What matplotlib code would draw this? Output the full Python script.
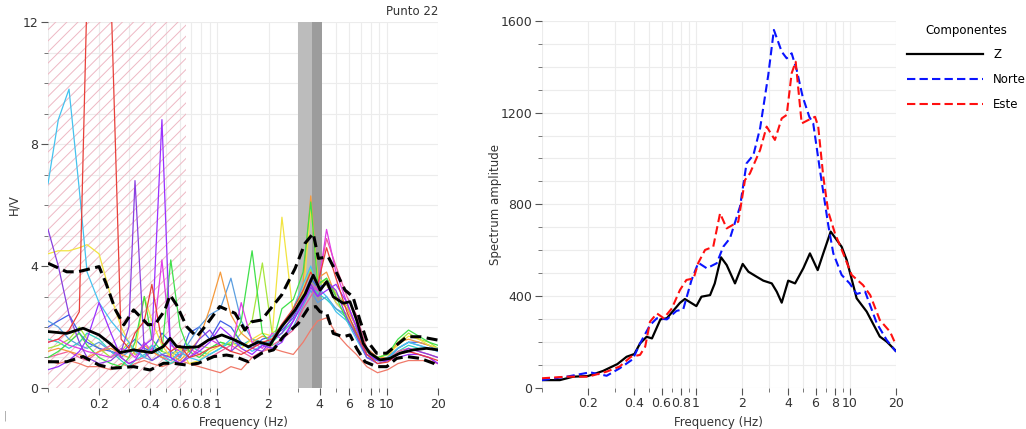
import numpy as np
import matplotlib
matplotlib.use("Agg")
import matplotlib.pyplot as plt
from matplotlib.ticker import LogLocator, NullFormatter, MultipleLocator

# -------------------- H/V WINDOWS (left panel) --------------------
WIN_FREQ = [0.10, 0.115, 0.133, 0.153, 0.17, 0.20, 0.235, 0.27, 0.30, 0.326,
            0.37, 0.41, 0.47, 0.53, 0.60, 0.68, 0.78, 0.90, 1.04, 1.2,
            1.38, 1.6, 1.84, 2.1, 2.4, 2.8, 3.2, 3.55, 3.9, 4.4,
            5.0, 5.8, 6.6, 7.6, 8.8, 10.1, 11.6, 13.4, 15.4, 17.7, 20.0]

win_cyan = [6.7, 8.8, 9.8, 6.5, 3.8, 2.8, 2.2, 1.8, 1.5, 1.2, 1.0, 1.4, 1.1, 0.9, 1.2, 1.0, 0.9, 1.1, 1.3, 1.6,
            1.5, 1.2, 1.4, 1.7, 2.0, 2.6, 3.4, 4.0, 3.3, 3.0, 2.5, 2.2, 1.6, 1.0, 0.9, 1.0, 1.3, 1.5, 1.4, 1.3, 1.3]
win_red = [1.5, 1.6, 1.9, 2.5, 13.0, 20.0, 13.0, 1.6, 1.3, 1.8, 2.2, 3.4, 1.5, 1.2, 1.4, 1.0, 1.1, 1.3, 1.4, 1.2,
           1.1, 1.3, 1.5, 1.6, 2.1, 2.6, 3.2, 3.8, 3.4, 4.6, 3.6, 2.5, 1.8, 1.1, 0.8, 0.85, 1.1, 1.2, 1.1, 1.0, 0.9]
win_purple = [5.2, 4.0, 2.4, 1.5, 1.0, 0.8, 0.9, 1.2, 2.0, 6.8, 1.2, 0.9, 1.1, 1.0, 0.8, 1.1, 1.6, 1.9, 1.4, 1.2,
              1.5, 1.3, 1.2, 1.6, 1.8, 2.4, 2.9, 3.4, 3.0, 3.5, 3.2, 2.3, 1.7, 1.0, 0.8, 0.9, 1.1, 1.3, 1.2, 1.1, 1.0]
win_violet = [0.6, 0.7, 0.9, 1.2, 1.6, 2.8, 1.8, 1.0, 0.8, 0.9, 1.4, 1.6, 8.8, 1.0, 0.8, 1.0, 1.2, 1.5, 2.0, 1.7,
              1.3, 1.1, 1.4, 1.3, 1.5, 2.2, 2.8, 3.3, 3.0, 3.2, 3.4, 2.8, 2.0, 1.1, 0.9, 0.9, 1.0, 1.1, 1.1, 1.0, 0.8]
win_yellow = [4.4, 4.5, 4.5, 4.6, 4.7, 4.4, 3.0, 2.0, 1.5, 1.2, 3.0, 2.2, 1.4, 1.0, 1.3, 0.8, 0.9, 1.2, 1.4, 1.5,
              1.3, 1.6, 1.8, 1.7, 5.6, 2.4, 3.0, 5.9, 3.6, 3.4, 2.8, 2.4, 1.8, 1.2, 1.0, 1.1, 1.4, 1.7, 1.6, 1.4, 1.3]
win_orange = [1.2, 1.3, 1.2, 1.1, 1.0, 1.2, 1.3, 1.1, 1.0, 1.2, 1.4, 1.2, 1.0, 1.1, 0.9, 1.2, 1.6, 2.6, 3.8, 2.4,
              1.8, 1.5, 1.7, 1.6, 2.0, 2.6, 3.4, 6.3, 3.6, 3.8, 3.0, 2.6, 2.0, 1.3, 1.0, 1.0, 1.5, 1.6, 1.5, 1.4, 1.3]
win_green = [1.0, 1.2, 1.5, 1.8, 1.4, 1.0, 0.8, 0.7, 1.0, 1.5, 3.0, 1.6, 1.2, 4.2, 2.0, 1.2, 1.0, 1.3, 1.5, 1.4,
             2.2, 4.5, 1.8, 1.4, 2.6, 2.9, 3.8, 6.1, 3.4, 3.6, 3.0, 2.2, 1.8, 1.2, 1.0, 1.1, 1.6, 1.9, 1.7, 1.5, 1.4]
win_skyblue = [2.2, 2.0, 1.6, 1.4, 1.3, 1.5, 1.2, 1.0, 1.2, 1.3, 1.0, 0.9, 1.1, 1.2, 1.0, 1.5, 2.0, 2.4, 2.6, 3.6,
               2.2, 1.6, 1.4, 1.3, 1.6, 2.0, 2.7, 3.2, 2.8, 3.0, 2.6, 2.4, 1.9, 1.2, 0.9, 0.9, 1.3, 1.5, 1.4, 1.3, 1.2]
win_magenta = [1.5, 1.6, 1.4, 1.3, 1.2, 1.1, 1.0, 1.3, 1.2, 1.0, 1.5, 1.2, 4.2, 1.4, 1.2, 1.0, 1.3, 1.6, 1.4, 1.2,
               2.8, 1.5, 1.3, 1.8, 1.6, 2.2, 2.8, 3.4, 3.2, 5.2, 3.8, 2.8, 2.0, 1.1, 0.9, 0.9, 1.1, 1.2, 1.1, 1.0, 0.8]
win_pink = [1.0, 1.1, 1.2, 1.0, 0.9, 1.2, 1.4, 1.0, 0.8, 0.9, 1.0, 1.2, 1.0, 0.9, 1.1, 1.3, 1.1, 1.0, 1.2, 1.4,
            1.2, 1.0, 1.2, 1.4, 1.6, 1.9, 2.6, 3.0, 3.4, 4.9, 4.0, 3.0, 2.4, 1.3, 1.0, 0.9, 1.2, 1.3, 1.2, 1.1, 1.0]
win_blue = [2.0, 2.2, 2.4, 1.8, 1.5, 1.3, 1.2, 1.1, 1.4, 1.6, 1.3, 1.2, 1.8, 1.5, 1.0, 1.8, 2.0, 1.6, 2.2, 2.0,
            1.5, 1.3, 1.6, 1.7, 1.9, 2.3, 3.0, 3.6, 3.3, 3.4, 2.8, 2.4, 1.8, 1.1, 0.9, 1.0, 1.3, 1.5, 1.5, 1.4, 1.2]
win_salmon = [0.9, 0.8, 0.9, 0.8, 0.7, 0.7, 0.6, 0.8, 0.7, 0.8, 0.9, 0.8, 0.7, 0.8, 0.9, 0.8, 0.7, 0.6, 0.5, 0.7,
              0.6, 1.0, 1.2, 1.3, 1.2, 1.1, 1.5, 1.9, 2.2, 2.3, 1.8, 1.4, 1.1, 0.7, 0.5, 0.6, 0.8, 0.9, 0.9, 0.9, 0.8]
win_teal = [1.6, 1.5, 1.3, 1.5, 1.8, 1.6, 1.2, 0.9, 0.7, 0.9, 1.1, 1.3, 1.0, 0.8, 1.0, 1.4, 1.2, 1.1, 1.3, 1.5,
            1.4, 1.6, 1.5, 1.5, 1.8, 2.2, 2.9, 3.4, 3.1, 2.9, 2.6, 2.3, 1.7, 1.0, 0.9, 0.9, 1.2, 1.4, 1.3, 1.3, 1.2]
win_lime = [1.3, 1.4, 1.6, 2.0, 1.6, 1.3, 1.0, 1.2, 1.5, 1.1, 1.2, 1.4, 1.2, 1.1, 1.3, 1.2, 1.4, 1.3, 1.5, 1.4,
            1.8, 2.2, 4.1, 1.8, 2.0, 2.4, 3.2, 3.9, 3.3, 3.6, 3.1, 2.7, 2.0, 1.2, 1.0, 1.1, 1.5, 1.8, 1.6, 1.5, 1.3]

WINDOWS = [
    (win_salmon, "#f07a6a"), (win_teal, "#35d3c0"), (win_lime, "#a8e63c"),
    (win_blue, "#4060e6"), (win_skyblue, "#5b9ee0"), (win_pink, "#f0609a"),
    (win_orange, "#f59a3c"), (win_yellow, "#f2e440"), (win_green, "#3fe04a"),
    (win_magenta, "#e03ee6"), (win_cyan, "#45c2ee"), (win_purple, "#8a40e0"),
    (win_violet, "#9a30ff"), (win_red, "#e8403a"),
]

# mean and mean +/- std curves
MEAN_F = [0.1, 0.129, 0.161, 0.2, 0.232, 0.266, 0.319, 0.365, 0.41, 0.479, 0.525, 0.574, 0.658, 0.77,
          0.883, 1.06, 1.27, 1.52, 1.74, 2.04, 2.39, 2.87, 3.3, 3.67, 4.03, 4.41, 4.82, 5.52, 6.05, 6.62,
          7.25, 7.93, 9.1, 10.4, 11.9, 14.3, 17.1, 20]
MEAN_HV = [1.85, 1.79, 1.96, 1.74, 1.46, 1.16, 1.25, 1.2, 1.16, 1.36, 1.63, 1.36, 1.33, 1.35,
           1.57, 1.74, 1.57, 1.35, 1.51, 1.41, 2.01, 2.56, 3.1, 3.7, 3.21, 3.49, 2.99, 2.78, 2.83, 2.23,
           1.46, 1.14, 0.92, 0.97, 1.14, 1.25, 1.3, 1.25]

UPPER_F = [0.1, 0.129, 0.15, 0.2, 0.22, 0.25, 0.28, 0.32, 0.39, 0.43, 0.49, 0.525, 0.574, 0.658, 0.754,
           0.86, 1.03, 1.27, 1.45, 1.59, 1.82, 2.14, 2.39, 2.87, 3.28, 3.67, 3.94, 4.5, 5.06, 5.65, 6.3,
           6.92, 7.58, 8.69, 9.96, 11.4, 13.1, 15.7, 20]
UPPER_HV = [4.09, 3.81, 3.81, 3.98, 3.43, 2.56, 2.07, 2.56, 2.07, 2.1, 2.56, 3.05, 2.72, 2.01, 1.68,
            2.07, 2.67, 2.45, 1.9, 2.17, 2.23, 2.72, 3.05, 3.92, 4.74, 5.07, 4.25, 4.3, 3.76, 3.21, 2.99,
            2.23, 1.57, 1.14, 1.14, 1.41, 1.68, 1.68, 1.57]

LOWER_F = [0.1, 0.129, 0.161, 0.2, 0.24, 0.32, 0.4, 0.48, 0.55, 0.66, 0.77, 0.95, 1.13, 1.27, 1.52,
           1.82, 2.14, 2.44, 3.0, 3.43, 3.8, 4.03, 4.41, 4.82, 5.52, 6.05, 6.62, 7.42, 8.69, 9.96, 11.4,
           13.1, 15.7, 18.8, 20]
LOWER_HV = [0.86, 0.86, 1.03, 0.75, 0.65, 0.7, 0.59, 0.81, 0.81, 0.75, 0.81, 1.03, 1.08, 1.03, 0.86,
            1.14, 1.25, 1.68, 2.12, 2.61, 2.67, 2.5, 2.45, 1.79, 1.68, 1.74, 1.3, 0.86, 0.7, 0.7, 0.97,
            1.03, 0.97, 0.81, 0.7]

HATCH_RANGE = (0.1, 0.65)
PEAK_BAND = (2.99, 4.12)
PEAK_BAND_DARK = (3.61, 4.12)

# -------------------- SPECTRA (right panel) --------------------
Z_F = [0.1, 0.131, 0.16, 0.2, 0.25, 0.31, 0.356, 0.40, 0.435, 0.48, 0.52, 0.59, 0.65, 0.79, 0.85,
       1.01, 1.09, 1.24, 1.33, 1.46, 1.59, 1.80, 2.02, 2.20, 2.49, 2.75, 3.12, 3.36, 3.62, 3.99, 4.42,
       5.0, 5.52, 6.2, 6.74, 7.53, 8.87, 9.57, 11.1, 12.9, 15.7, 17.4, 20]
Z_AMP = [33, 33, 48, 51, 73, 103, 135, 147, 193, 222, 215, 298, 303, 370, 387,
         356, 397, 404, 455, 569, 535, 455, 540, 506, 484, 467, 455, 419, 371, 467, 455,
         521, 586, 513, 586, 681, 615, 557, 390, 332, 223, 201, 160]

N_F = [0.1, 0.145, 0.206, 0.264, 0.32, 0.39, 0.435, 0.505, 0.56, 0.65, 0.75, 0.83, 0.94, 1.04,
       1.18, 1.37, 1.51, 1.67, 1.94, 2.14, 2.37, 2.62, 2.96, 3.22, 3.62, 3.9, 4.2, 4.53, 4.95, 5.47,
       5.8, 6.41, 7.26, 7.83, 8.87, 10.0, 11.1, 12.6, 15.0, 17.4, 20]
N_AMP = [33, 48, 67, 52, 84, 124, 193, 273, 303, 298, 335, 342, 470, 545,
         521, 543, 615, 652, 790, 979, 1015, 1132, 1364, 1561, 1466, 1437, 1459, 1386, 1270, 1182,
         1153, 950, 710, 586, 492, 455, 409, 419, 281, 208, 157]

E_F = [0.1, 0.145, 0.2, 0.264, 0.32, 0.38, 0.435, 0.47, 0.505, 0.56, 0.62, 0.70, 0.79, 0.87, 0.97,
       1.04, 1.15, 1.30, 1.44, 1.59, 1.89, 2.09, 2.25, 2.62, 2.89, 3.27, 3.62, 3.9, 4.2, 4.46, 4.88,
       5.39, 5.96, 6.25, 6.74, 7.26, 8.03, 9.08, 10.3, 12.2, 13.6, 15.7, 18.3, 20]
E_AMP = [41, 48, 48, 70, 92, 135, 143, 179, 288, 324, 303, 346, 426, 470, 477,
         545, 601, 615, 761, 695, 724, 906, 935, 1037, 1139, 1081, 1175, 1190, 1372, 1422, 1153,
         1168, 1182, 1139, 921, 768, 673, 586, 492, 448, 404, 295, 244, 186]

# -------------------- PLOT --------------------
plt.rcParams["font.family"] = "DejaVu Sans"
plt.rcParams["hatch.linewidth"] = 0.7

fig = plt.figure(figsize=(10.26, 4.29), dpi=100)
ax1 = fig.add_axes([0.0468, 0.0956, 0.3801, 0.853])
ax2 = fig.add_axes([0.528, 0.0963, 0.3453, 0.8548])

XTICKS = [0.2, 0.4, 0.6, 0.8, 1, 2, 4, 6, 8, 10, 20]
XLABELS = ["0.2", "0.4", "0.6", "0.8", "1", "2", "4", "6", "8", "10", "20"]


def style_axes(ax, ymax, ystep, yminor):
    ax.set_xscale("log")
    ax.set_xlim(0.1, 20)
    ax.set_ylim(0, ymax)
    ax.set_xticks(XTICKS, XLABELS)
    ax.xaxis.set_minor_locator(LogLocator(base=10, subs=np.arange(1, 10)))
    ax.xaxis.set_minor_formatter(NullFormatter())
    ax.yaxis.set_major_locator(MultipleLocator(ystep))
    ax.yaxis.set_minor_locator(MultipleLocator(yminor))
    ax.grid(which="both", color="#ececec", lw=0.8)
    ax.set_axisbelow(True)
    for s in ax.spines.values():
        s.set_visible(False)
    ax.tick_params(which="major", length=5, width=0.8, color="#555555",
                   labelsize=9, labelcolor="#333333", pad=2)
    ax.tick_params(which="minor", length=3, width=0.7, color="#777777")
    ax.set_xlabel("Frequency (Hz)", fontsize=8.5, color="#333333", labelpad=4)


# left: H/V
style_axes(ax1, 12, 4, 1)
ax1.fill_between(HATCH_RANGE, 0, 12, facecolor="none", edgecolor="#eeb8c4",
                 hatch="///", linewidth=0, zorder=1)
ax1.axvspan(*PEAK_BAND, color="#bcbcbc", lw=0, zorder=1)
ax1.axvspan(*PEAK_BAND_DARK, color="#9c9c9c", lw=0, zorder=1)
for vals, col in WINDOWS:
    ax1.plot(WIN_FREQ, vals, color=col, lw=0.9, zorder=2)
ax1.plot(MEAN_F, MEAN_HV, color="black", lw=2.0, zorder=4)
ax1.plot(UPPER_F, UPPER_HV, color="black", lw=2.2, ls=(0, (3.6, 1.8)), zorder=4)
ax1.plot(LOWER_F, LOWER_HV, color="black", lw=2.2, ls=(0, (3.6, 1.8)), zorder=4)
ax1.set_ylabel("H/V", fontsize=8.5, color="#333333", labelpad=1.5)
ax1.text(1.0, 1.012, "Punto 22", transform=ax1.transAxes, ha="right", va="bottom",
         fontsize=8.5, color="#333333")

# right: spectra
style_axes(ax2, 1600, 400, 100)
ax2.plot(Z_F, Z_AMP, color="black", lw=1.6, label="Z")
ax2.plot(N_F, N_AMP, color="#0a14ff", lw=1.5, ls=(0, (4, 2)), label="Norte")
ax2.plot(E_F, E_AMP, color="#ff1010", lw=1.5, ls=(0, (4, 2)), label="Este")
ax2.set_ylabel("Spectrum amplitude", fontsize=8.5, color="#333333", labelpad=-1)

fig.legend(handles=ax2.get_lines(), title="Componentes", loc="upper left",
           bbox_to_anchor=(0.884, 0.945), frameon=False, fontsize=8.5,
           title_fontsize=8.5, handlelength=6.4, labelspacing=1.0,
           borderpad=0, borderaxespad=0, handletextpad=0.9)

fig.text(0.004, 0.025, "|", fontsize=7, color="#999999")

fig.savefig("out.png", dpi=100)
